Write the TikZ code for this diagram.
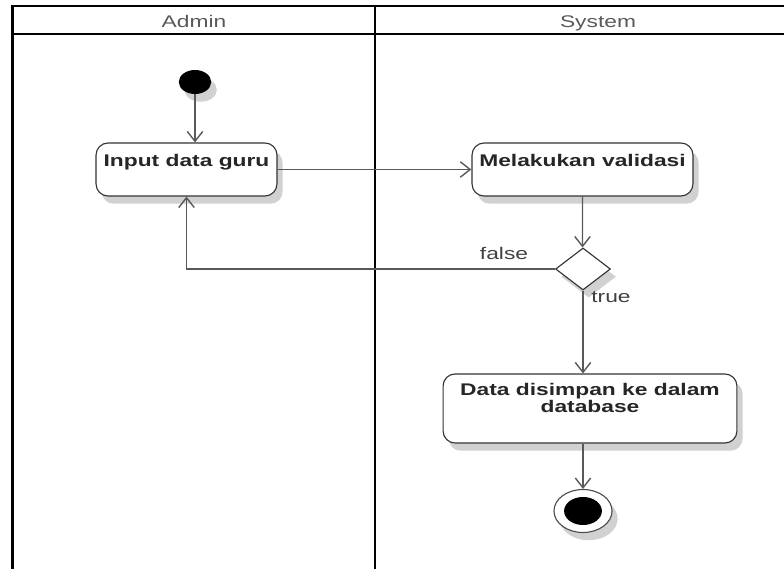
\documentclass[tikz,border=0pt]{standalone}
\usepackage{fontspec}
\setmainfont{Liberation Sans}
\usetikzlibrary{arrows.meta,positioning,shapes.geometric,shadows}

\begin{document}
\begin{tikzpicture}[
  x=0.025cm, y=-0.025cm,
  lane/.style={line width=1.6pt, black},
  lanehead/.style={xscale=1.35, inner sep=0pt, text=black!65,
                   font=\fontsize{12}{14}\selectfont},
  shade/.style={drop shadow={shadow xshift=4pt, shadow yshift=-5.5pt,
                             fill=black!18, opacity=1}},
  act/.style={draw=black!80, line width=0.8pt, fill=white,
              rounded corners=0.3cm, xscale=1.35, inner sep=0pt,
              align=center, text=black!85, text height=0.6cm,
              font=\bfseries\fontsize{12}{11}\selectfont, shade},
  init/.style={circle, fill=black, minimum size=0.6cm, inner sep=0pt,
               xscale=1.35, shade},
  decide/.style={diamond, draw=black!80, line width=0.8pt, fill=white,
                 minimum width=1.02cm, minimum height=1.05cm,
                 inner sep=0pt, xscale=1.35, shade},
  final/.style={circle, draw=black!70, line width=0.8pt, fill=white,
                minimum size=1.075cm, inner sep=0pt, xscale=1.35, shade},
  finaldot/.style={circle, fill=black, minimum size=0.7cm, inner sep=0pt,
                   xscale=1.35},
  flow/.style={draw=black!65, line width=1pt,
               -{Straight Barb[length=7pt, width=11pt]}},
  guard/.style={xscale=1.35, inner sep=0pt, text=black!75,
                font=\fontsize{12}{14}\selectfont}
]
  \useasboundingbox (0,0) rectangle (784,569);

  % swimlanes
  \draw[lane] (12.5,569) |- (784,6);
  \draw[lane] (12.5,34) -- (784,34);
  \draw[lane] (375,6) -- (375,569);
  \node[lanehead, anchor=base] (admin)  at (194,28) {Admin};
  \node[lanehead, anchor=base] (system) at (598,28) {System};

  % activities
  \node[init]  (start) at (195,82) {};
  \node[act, minimum width=3.35cm, text depth=0.725cm]
        (input) at (186.5,169.5) {Input data guru};
  \node[act, minimum width=4.09cm, text depth=0.725cm]
        (valid) at (582.5,169.5) {Melakukan validasi};
  \node[decide] (check) at (583,269) {};
  \node[act, minimum width=5.44cm, text height=0.975cm, text depth=0.75cm]
        (save) at (590,408.5) {Data disimpan ke dalam\\database};
  \node[final]    (stop)    at (583,511) {};
  \node[finaldot] (stopdot) at (stop) {};

  % flows
  \draw[flow] (start) -- (start |- input.north);
  \draw[flow] (input) -- (valid);
  \draw[flow] (valid) -- (valid.south |- check.north);
  \draw[flow] (check.west) -| (input.south);
  \draw[flow] (check.south) -- (check.south |- save.north);
  \draw[flow] (stop |- save.south) -- (stop);

  \node[guard, anchor=base] (no)  at (504,260) {false};
  \node[guard, anchor=base] (yes) at (611,303) {true};
\end{tikzpicture}
\end{document}
